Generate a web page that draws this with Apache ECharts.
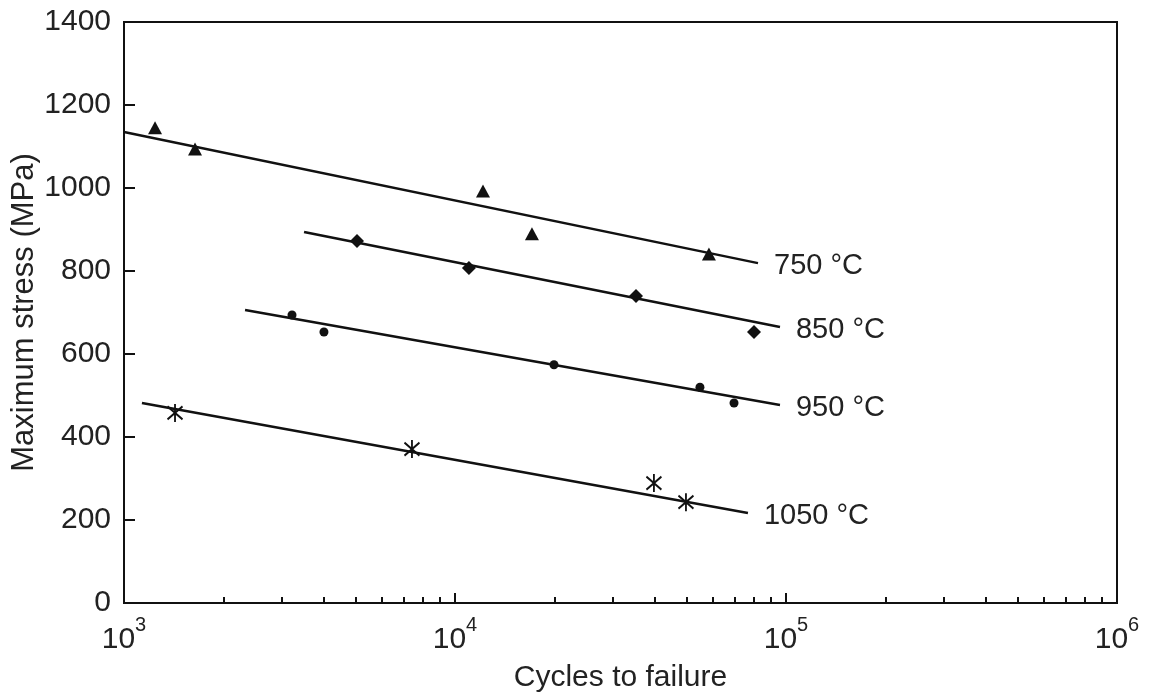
<!DOCTYPE html>
<html>
<head>
<meta charset="utf-8">
<script src="https://cdn.jsdelivr.net/npm/echarts@6/dist/echarts.min.js"></script>
<style>html,body{margin:0;padding:0;background:#fff}#c{width:1150px;height:693px}</style>
</head>
<body>
<div id="c"></div>
<script>
// ---- data ----
const temps = ['750 °C', '850 °C', '950 °C', '1050 °C'];
const pts750 = [[1241, 1145], [1639, 1094], [12150, 993], [17080, 890], [58500, 841]];
const pts850 = [[5058, 872], [11020, 807], [35230, 740], [80060, 653]];
const pts950 = [[3218, 694], [4019, 653], [19910, 574], [54960, 520], [69660, 482]];
const pts1050 = [[1426, 458], [7413, 371], [39900, 289], [49860, 243]];
const fit750 = [[1000, 1135], [82300, 819]];
const fit850 = [[3499, 894], [95900, 665]];
const fit950 = [[2321, 706], [95900, 477]];
const fit1050 = [[1133, 482], [76740, 217]];
const xMajor = [1e3, 1e4, 1e5, 1e6];
const xMinor = [];
[1e3, 1e4, 1e5].forEach(d => { for (let k = 2; k <= 9; k++) xMinor.push(d * k); });

const FONT = "'Liberation Sans', Arial, Helvetica, sans-serif";
const INK = '#111';
const FS = 29;
const FS_AX = 30;
const asterisk = 'path://M7,0L7,18M0,2.5L14,15.5M0,15.5L14,2.5';

const pointSets = [pts750, pts850, pts950, pts1050];
const fitSets = [fit750, fit850, fit950, fit1050];
const symbols = ['triangle', 'diamond', 'circle', asterisk];
const symSizes = [[14, 13], [14, 14], [9, 9], [15, 18]];

const series = [];
fitSets.forEach((f, i) => {
  series.push({
    type: 'line', data: f, showSymbol: false, silent: true,
    lineStyle: { color: INK, width: 2.5 },
    endLabel: { show: true, formatter: temps[i], color: '#222', fontSize: FS, fontFamily: FONT, offset: [8, 3] }
  });
});
pointSets.forEach((p, i) => {
  const isAst = i === 3;
  series.push({
    type: 'scatter', data: p, symbol: symbols[i], symbolSize: symSizes[i],
    itemStyle: isAst ? { color: 'none', borderColor: INK, borderWidth: 2, opacity: 1 } : { color: INK, opacity: 1 }
  });
});

const chart = echarts.init(document.getElementById('c'), null, { renderer: 'canvas' });
chart.setOption({
  animation: false,
  backgroundColor: '#fff',
  grid: { left: 124, right: 33, top: 22, bottom: 90, outerBoundsMode: 'none', containLabel: false,
    show: true, borderColor: INK, borderWidth: 2, backgroundColor: 'transparent' },
  xAxis: [{
    type: 'log', logBase: 10, min: 1e3, max: 1e6, position: 'bottom',
    name: 'Cycles to failure', nameLocation: 'middle', nameGap: 60, nameMoveOverlap: false,
    nameTextStyle: { fontSize: FS_AX, color: '#222', fontFamily: FONT },
    axisLine: { show: true, lineStyle: { color: INK, width: 2 } },
    axisTick: { show: true, inside: true, length: 10, customValues: xMajor, lineStyle: { color: INK, width: 2 } },
    axisLabel: {
      show: true, customValues: xMajor, margin: 12,
      formatter: v => '{b|10}{s|' + Math.round(Math.log10(v)) + '}',
      rich: {
        b: { fontSize: FS_AX, color: '#222', fontFamily: FONT, padding: [10, 0, 0, 0] },
        s: { fontSize: 20, color: '#222', fontFamily: FONT, verticalAlign: 'top' }
      }
    },
    splitLine: { show: false }, minorTick: { show: false }
  }, {
    type: 'log', logBase: 10, min: 1e3, max: 1e6, position: 'bottom', offset: 0,
    axisLine: { show: false },
    axisTick: { show: true, inside: true, length: 6, customValues: xMinor, lineStyle: { color: INK, width: 2 } },
    axisLabel: { show: false }, splitLine: { show: false }
  }],
  yAxis: {
    type: 'value', min: 0, max: 1400, interval: 200,
    name: 'Maximum stress (MPa)', nameLocation: 'middle', nameGap: 84, nameMoveOverlap: false,
    nameTextStyle: { fontSize: FS_AX + 1, color: '#222', fontFamily: FONT },
    axisLine: { show: true, lineStyle: { color: INK, width: 2 } },
    axisTick: { show: true, inside: true, length: 11, lineStyle: { color: INK, width: 2 } },
    axisLabel: { fontSize: FS_AX, color: '#222', fontFamily: FONT, margin: 13, formatter: v => String(v) },
    splitLine: { show: false }
  },
  series: series
});
</script>
</body>
</html>
